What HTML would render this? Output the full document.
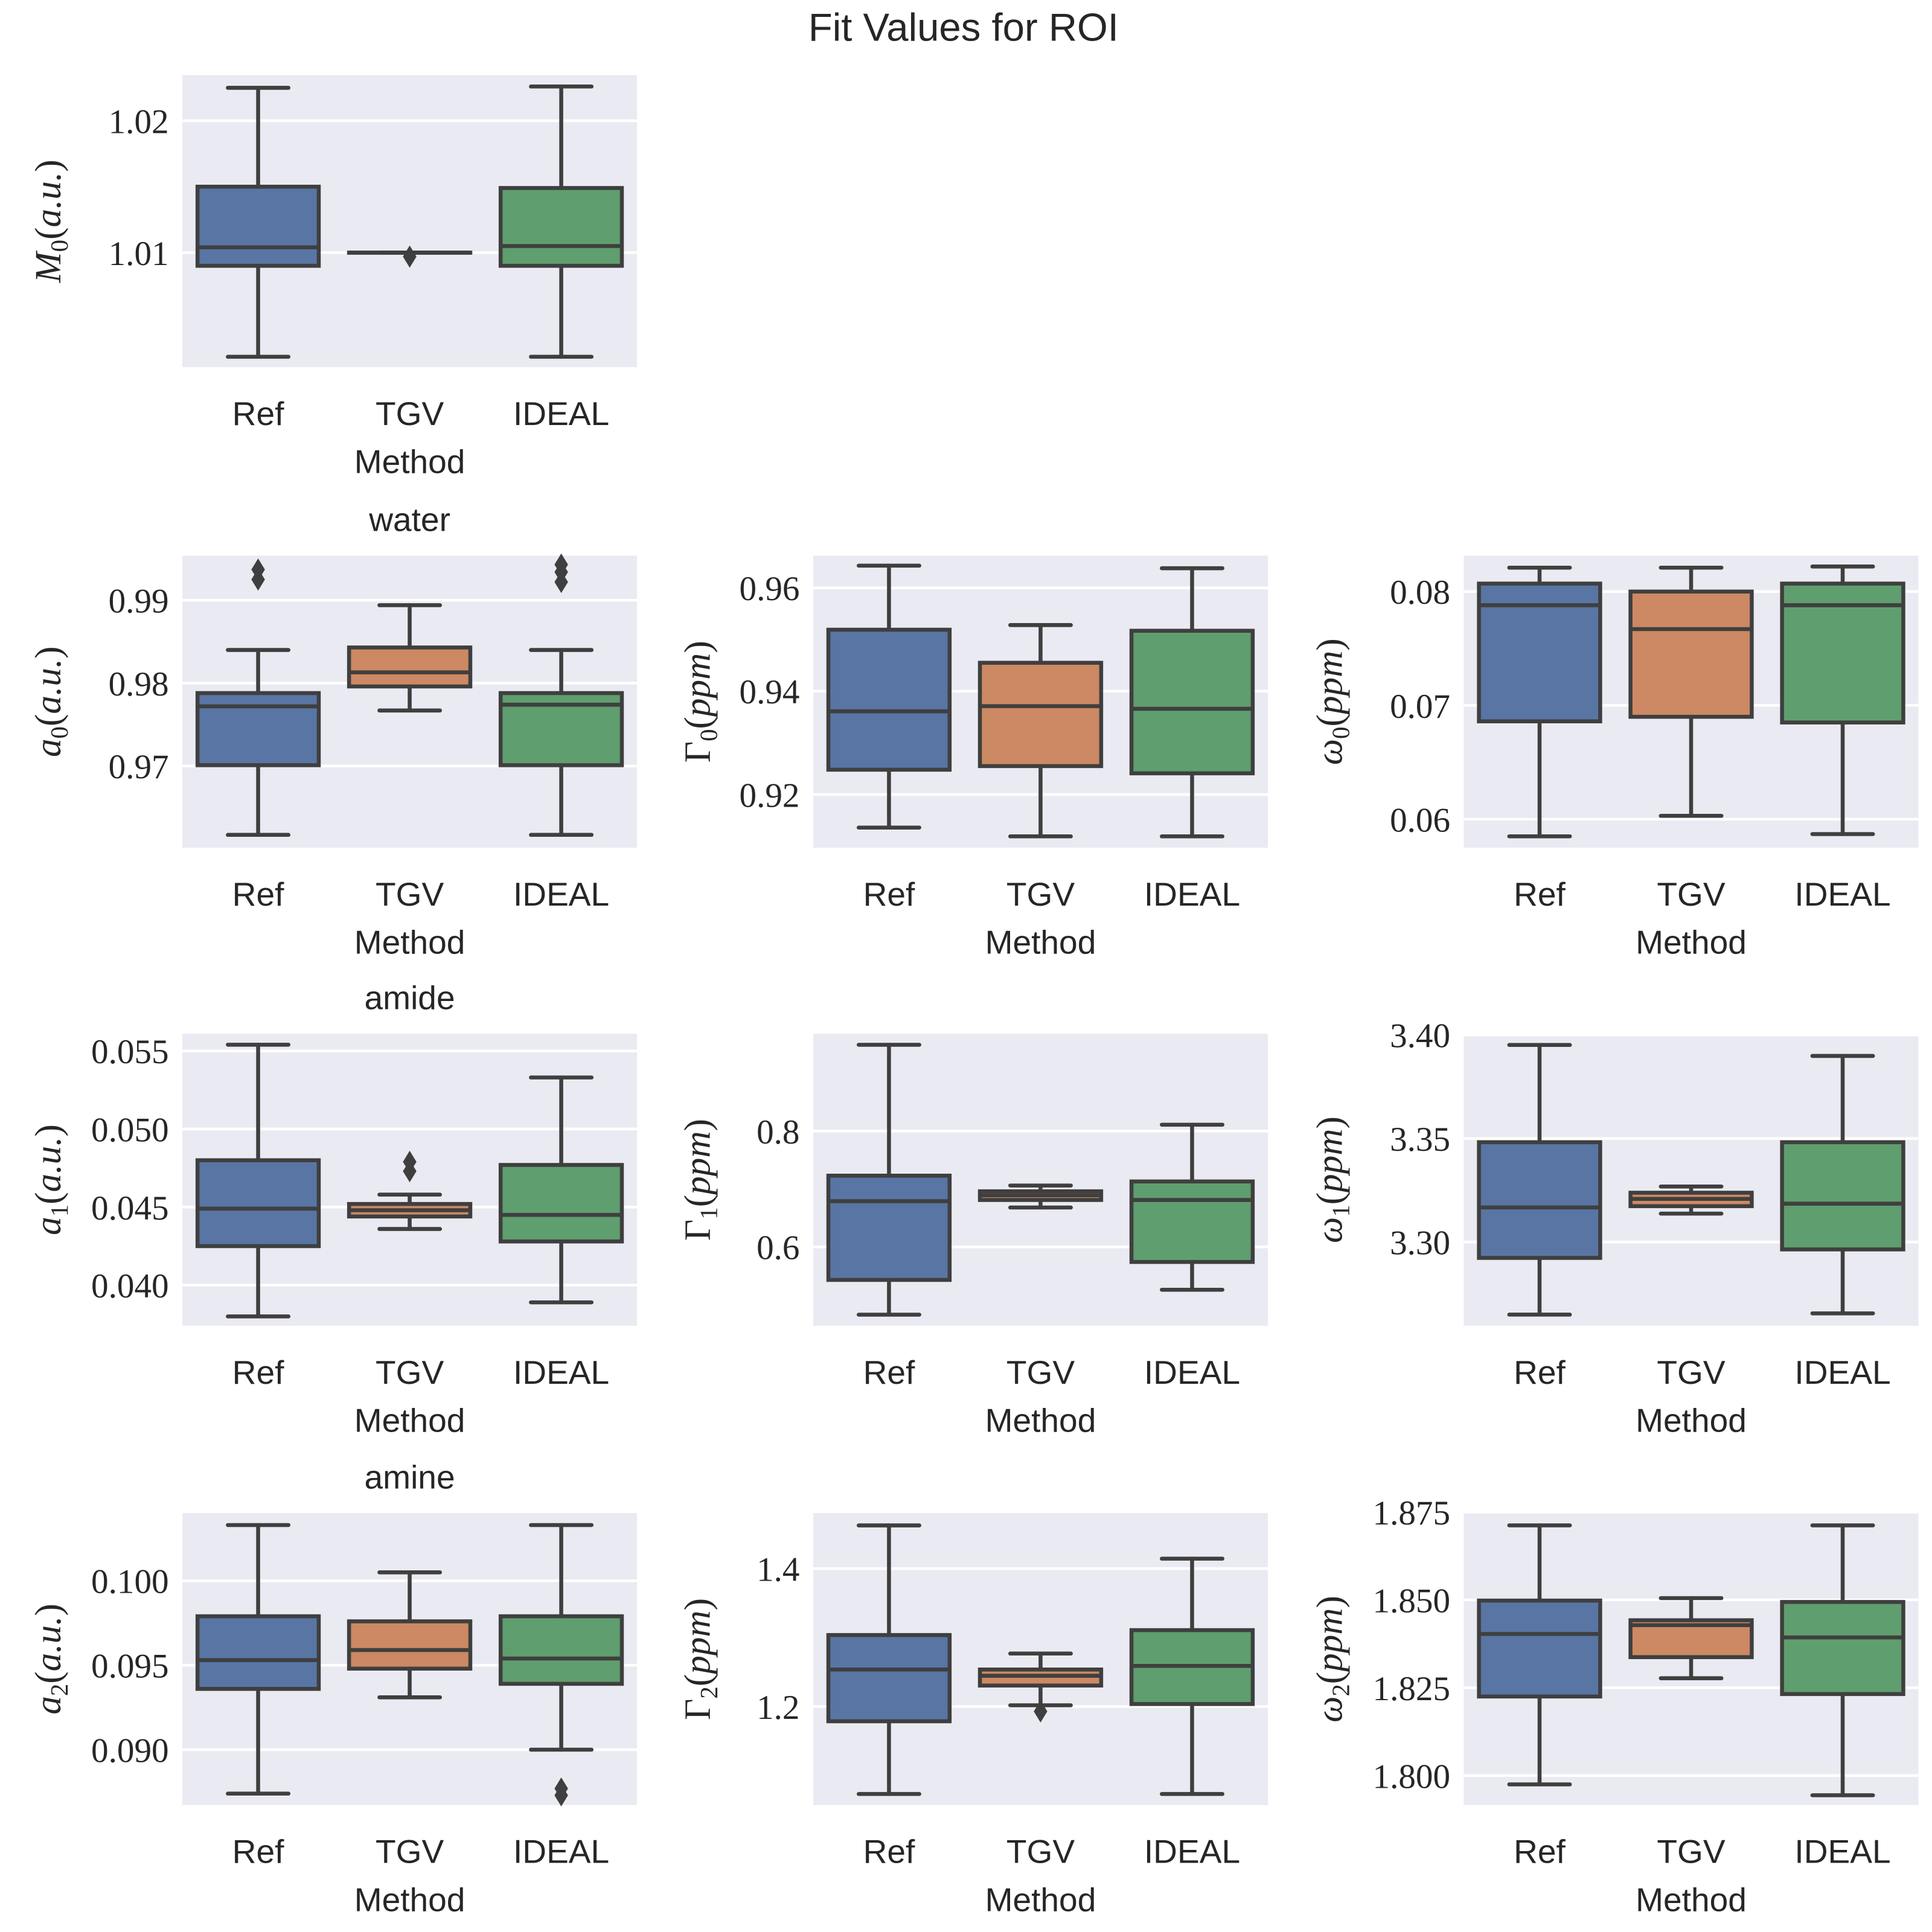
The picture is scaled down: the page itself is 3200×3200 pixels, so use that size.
<!DOCTYPE html>
<html><head><meta charset="utf-8"><style>
html,body{margin:0;padding:0;background:#fff;}
svg{display:block;}
</style></head><body>
<svg id="fig" xmlns="http://www.w3.org/2000/svg" width="3200" height="3200" viewBox="0 0 1568 1568">
<text x="782" y="33" text-anchor="middle" font-family="Liberation Sans, DejaVu Sans, sans-serif" font-size="32" fill="#262626">Fit Values for ROI</text>
</svg>
<script>
const categories = ["Ref","TGV","IDEAL"];
const colors = ["#5875a4","#cc8963","#5f9e6e"];
// stats: [whislo, q1, med, q3, whishi]
const m0Stats = [[1.0021,1.0090,1.0104,1.0150,1.0225],[1.0100,1.0100,1.0100,1.0100,1.0100],[1.0021,1.0090,1.0105,1.0149,1.0226]];
const m0Fliers = [[],[1.0097],[]];
const m0Ticks = [1.01,1.02];
const a0Stats = [[0.9617,0.9701,0.9772,0.9788,0.9840],[0.9767,0.9796,0.9813,0.9843,0.9894],[0.9617,0.9701,0.9774,0.9788,0.9840]];
const a0Fliers = [[0.9937,0.9925],[],[0.9943,0.9934,0.9922]];
const a0Ticks = [0.97,0.98,0.99];
const g0Stats = [[0.9136,0.9248,0.9361,0.9519,0.9643],[0.9119,0.9255,0.9371,0.9455,0.9528],[0.9119,0.9241,0.9366,0.9517,0.9638]];
const g0Fliers = [[],[],[]];
const g0Ticks = [0.92,0.94,0.96];
const w0Stats = [[0.0585,0.0686,0.0788,0.0807,0.0821],[0.0603,0.0690,0.0767,0.0800,0.0821],[0.0587,0.0685,0.0788,0.0807,0.0822]];
const w0Fliers = [[],[],[]];
const w0Ticks = [0.06,0.07,0.08];
const a1Stats = [[0.0380,0.0425,0.0449,0.0480,0.0554],[0.0436,0.0444,0.0448,0.0452,0.0458],[0.0389,0.0428,0.0445,0.0477,0.0533]];
const a1Fliers = [[],[0.0479,0.0473],[]];
const a1Ticks = [0.040,0.045,0.050,0.055];
const g1Stats = [[0.483,0.543,0.679,0.723,0.949],[0.668,0.681,0.689,0.696,0.706],[0.526,0.574,0.681,0.713,0.811]];
const g1Fliers = [[],[],[]];
const g1Ticks = [0.6,0.8];
const w1Stats = [[3.2649,3.2923,3.3167,3.3482,3.3952],[3.3137,3.3173,3.3208,3.3238,3.3268],[3.2655,3.2964,3.3185,3.3482,3.3899]];
const w1Fliers = [[],[],[]];
const w1Ticks = [3.30,3.35,3.40];
const a2Stats = [[0.0874,0.0936,0.0953,0.0979,0.1033],[0.0931,0.0948,0.0959,0.0976,0.1005],[0.0900,0.0939,0.0954,0.0979,0.1033]];
const a2Fliers = [[],[],[0.0877,0.0873]];
const a2Ticks = [0.090,0.095,0.100];
const g2Stats = [[1.0732,1.1786,1.2536,1.3036,1.4625],[1.2018,1.2304,1.2446,1.2536,1.2768],[1.0732,1.2036,1.2589,1.3107,1.4143]];
const g2Fliers = [[],[1.1929],[]];
const g2Ticks = [1.2,1.4];
const w2Stats = [[1.7975,1.8225,1.8403,1.8498,1.8712],[1.8277,1.8337,1.8428,1.8442,1.8505],[1.7944,1.8232,1.8393,1.8494,1.8712]];
const w2Fliers = [[],[],[]];
const w2Ticks = [1.800,1.825,1.850,1.875];

const NS="http://www.w3.org/2000/svg";
const svg=document.getElementById('fig');
function mk(tag,attrs,parent){const e=document.createElementNS(NS,tag);for(const k in attrs)e.setAttribute(k,attrs[k]);(parent||svg).appendChild(e);return e;}
const colX=[148,660,1188], rowY=[61,451,839,1228], PW=369, PH=237;
const serif="Liberation Serif, DejaVu Serif, serif", sans="Liberation Sans, DejaVu Sans, sans-serif";

const panels=[
 {id:"m0",r:0,c:0,stats:m0Stats,fl:m0Fliers,ticks:m0Ticks,dom:[1.00131,1.02346],dec:2,lab:["M","0","a.u."],title:null},
 {id:"a0",r:1,c:0,stats:a0Stats,fl:a0Fliers,ticks:a0Ticks,dom:[0.96015,0.99537],dec:2,lab:["a","0","a.u."],title:"water"},
 {id:"g0",r:1,c:1,stats:g0Stats,fl:g0Fliers,ticks:g0Ticks,dom:[0.9097,0.96623],dec:2,lab:["Γ","0","ppm"],title:null},
 {id:"w0",r:1,c:2,stats:w0Stats,fl:w0Fliers,ticks:w0Ticks,dom:[0.0575,0.08315],dec:2,lab:["ω","0","ppm"],title:null},
 {id:"a1",r:2,c:0,stats:a1Stats,fl:a1Fliers,ticks:a1Ticks,dom:[0.0374,0.0561],dec:3,lab:["a","1","a.u."],title:"amide"},
 {id:"g1",r:2,c:1,stats:g1Stats,fl:g1Fliers,ticks:g1Ticks,dom:[0.4638,0.968],dec:1,lab:["Γ","1","ppm"],title:null},
 {id:"w1",r:2,c:2,stats:w1Stats,fl:w1Fliers,ticks:w1Ticks,dom:[3.2595,3.4006],dec:2,lab:["ω","1","ppm"],title:null},
 {id:"a2",r:3,c:0,stats:a2Stats,fl:a2Fliers,ticks:a2Ticks,dom:[0.08672,0.10401],dec:3,lab:["a","2","a.u."],title:"amine"},
 {id:"g2",r:3,c:1,stats:g2Stats,fl:g2Fliers,ticks:g2Ticks,dom:[1.0571,1.4804],dec:1,lab:["Γ","2","ppm"],title:null},
 {id:"w2",r:3,c:2,stats:w2Stats,fl:w2Fliers,ticks:w2Ticks,dom:[1.7916,1.8747],dec:3,lab:["ω","2","ppm"],title:null}
];
const ylabX=[40,567,1080];
panels.forEach(p=>{
  const x0=colX[p.c], y0=rowY[p.r];
  const g=mk('g',{});
  
  
  const ys=v=>y0+PH-(v-p.dom[0])/(p.dom[1]-p.dom[0])*PH;
  const xs=i=>x0+PW/categories.length*(i+0.5);
  const bg=mk('rect',{x:x0,y:y0,width:PW,height:PH,fill:'#eaeaf2'},g);
  
  
  p.ticks.forEach(t=>{
    const y=ys(t);
    const gl=mk('line',{x1:x0,x2:x0+PW,y1:y,y2:y,stroke:'#fff','stroke-width':2.2},g);
    
    
    const tl=mk('text',{x:x0-11,y:y+10,'text-anchor':'end','font-family':serif,'font-size':28,fill:'#262626'},g);
    
    
    tl.textContent=t.toFixed(p.dec);
  });
  const bw=PW/categories.length*0.8;
  categories.forEach((cat,i)=>{
    const s=p.stats[i], cx=xs(i);
    const bx=mk('g',{},g);
    
    
    const st={stroke:'#3f3f3f','stroke-width':3.2,'stroke-linecap':'round'};
    mk('line',Object.assign({x1:cx,x2:cx,y1:ys(s[0]),y2:ys(s[1])},st),bx);
    mk('line',Object.assign({x1:cx,x2:cx,y1:ys(s[3]),y2:ys(s[4])},st),bx);
    mk('line',Object.assign({x1:cx-bw/4,x2:cx+bw/4,y1:ys(s[0]),y2:ys(s[0])},st),bx);
    mk('line',Object.assign({x1:cx-bw/4,x2:cx+bw/4,y1:ys(s[4]),y2:ys(s[4])},st),bx);
    mk('rect',{x:cx-bw/2,y:ys(s[3]),width:bw,height:Math.max(0.1,ys(s[1])-ys(s[3])),fill:colors[i],stroke:'#3f3f3f','stroke-width':3.2},bx);
    mk('line',{x1:cx-bw/2,x2:cx+bw/2,y1:ys(s[2]),y2:ys(s[2]),stroke:'#3f3f3f','stroke-width':3.2},bx);
    p.fl[i].forEach(v=>{
      const y=ys(v);
      const f=mk('path',{d:`M${cx} ${y-9}L${cx+5.5} ${y}L${cx} ${y+9}L${cx-5.5} ${y}Z`,fill:'#3f3f3f'},bx);
      
      
    });
    const xl=mk('text',{x:cx,y:y0+PH+47,'text-anchor':'middle','font-family':sans,'font-size':27,fill:'#262626'},g);
    
    
    xl.textContent=cat;
  });
  const xt=mk('text',{x:x0+PW/2,y:y0+PH+86,'text-anchor':'middle','font-family':sans,'font-size':27,fill:'#262626'},g);
  
  
  xt.textContent='Method';
  if(p.title){
    const tt=mk('text',{x:x0+PW/2,y:y0-20,'text-anchor':'middle','font-family':sans,'font-size':27,fill:'#262626'},g);
    
    
    tt.textContent=p.title;
  }
  const lx=ylabX[p.c]+9, ly=y0+PH/2;
  const yl=mk('text',{x:lx,y:ly,'text-anchor':'middle','font-family':serif,'font-size':30,fill:'#262626',transform:`rotate(-90 ${lx} ${ly})`},g);
  
  
  const t1=mk('tspan',{'font-style':p.lab[0]==='Γ'?'normal':'italic'},yl); t1.textContent=p.lab[0];
  const t2=mk('tspan',{'font-size':20,dy:6},yl); t2.textContent=p.lab[1];
  const t3=mk('tspan',{dy:-6},yl); t3.textContent='(';
  const t4=mk('tspan',{'font-style':'italic'},yl); t4.textContent=p.lab[2];
  const t5=mk('tspan',{},yl); t5.textContent=')';
});
</script>
</body></html>
